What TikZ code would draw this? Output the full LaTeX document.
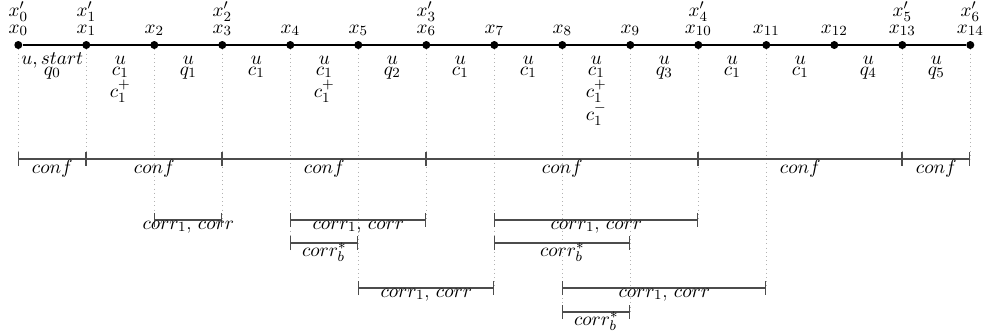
\documentclass[tikz,border=0pt]{standalone}
\usetikzlibrary{arrows.meta,calc}
\begin{document}
\begin{tikzpicture}[x=0.02cm,y=-0.02cm,
  every node/.style={font=\fontsize{11}{13}\selectfont},
  dot/.style={circle,fill=black,inner sep=0pt,minimum size=0.16cm},
  guide/.style={black!30,dotted,line width=0.4pt},
  bar/.style={black!70,line width=0.6pt,{Bar[width=0.28cm,line width=0.6pt]}-{Bar[width=0.28cm,line width=0.6pt]}},
  lbl/.style={anchor=base,inner sep=0pt,text=black}]
\useasboundingbox (0,0) rectangle (987,335);
% levels
\coordinate (txp) at (0,16.5);
\coordinate (tx) at (0,33);
\coordinate (lu) at (0,64);
\coordinate (lb) at (0,75);
\coordinate (lc) at (0,97);
\coordinate (ld) at (0,120);
\coordinate (lconf) at (0,159);
\coordinate (l1) at (0,220);
\coordinate (l2) at (0,243);
\coordinate (l3) at (0,288);
\coordinate (l4) at (0,312);
% points
\foreach \i in {0,...,14} {
  \node[dot] (p\i) at ({18.3+68*\i},45) {};
}
\foreach \i in {0,...,13} {
  \coordinate (m\i) at ({18.3+68*(\i+0.5)},45);
}
\draw[line width=0.6pt] (p0) -- (p14);
% guides
\foreach \i/\e in {0/lconf,1/lconf,2/l1,3/l1,4/l2,5/l3,6/l1,7/l3,8/l4,9/l4,10/l1,11/l3,13/lconf,14/lconf} {
  \draw[guide] (p\i.south) -- (p\i |- \e);
}
% top labels
\foreach \i in {0,...,14} {
  \node[lbl] (xl\i) at (p\i |- tx) {$x_{\i}$};
}
\foreach \i/\j in {0/0,1/1,3/2,6/3,10/4,13/5,14/6} {
  \node[lbl] (xp\j) at (p\i |- txp) {$x'_{\j}$};
}
% segment labels
\node[lbl] (s0a) at (m0 |- lu) {$u, start$};
\node[lbl] (s0b) at (m0 |- lb) {$q_0$};
\foreach \i/\t in {1/c_1,2/q_1,3/c_1,4/c_1,5/q_2,6/c_1,7/c_1,8/c_1,9/q_3,10/c_1,11/c_1,12/q_4,13/q_5} {
  \node[lbl] (s\i a) at (m\i |- lu) {$u$};
  \node[lbl] (s\i b) at (m\i |- lb) {$\t$};
}
\foreach \i in {1,4,8} {
  \node[lbl] (s\i c) at (m\i |- lc) {$c_1^+$};
}
\node[lbl] (s8d) at (m8 |- ld) {$c_1^-$};
% conf bars
\foreach \a/\b in {0/1,1/3,3/6,6/10,10/13,13/14} {
  \draw[bar] (p\a |- lconf) -- (p\b |- lconf) node[lbl,midway,yshift=-0.28cm] {$conf$};
}
% corr bars
\foreach \a/\b in {2/3,4/6,7/10} {
  \draw[bar] (p\a |- l1) -- (p\b |- l1) node[lbl,midway,yshift=-0.18cm] {$corr_1$, $corr$};
}
\foreach \a/\b in {4/5,7/9} {
  \draw[bar] (p\a |- l2) -- (p\b |- l2) node[lbl,midway,yshift=-0.26cm] {$corr_b^*$};
}
\foreach \a/\b in {5/7,8/11} {
  \draw[bar] (p\a |- l3) -- (p\b |- l3) node[lbl,midway,yshift=-0.18cm] {$corr_1$, $corr$};
}
\draw[bar] (p8 |- l4) -- (p9 |- l4) node[lbl,midway,yshift=-0.26cm] {$corr_b^*$};
\end{tikzpicture}
\end{document}
